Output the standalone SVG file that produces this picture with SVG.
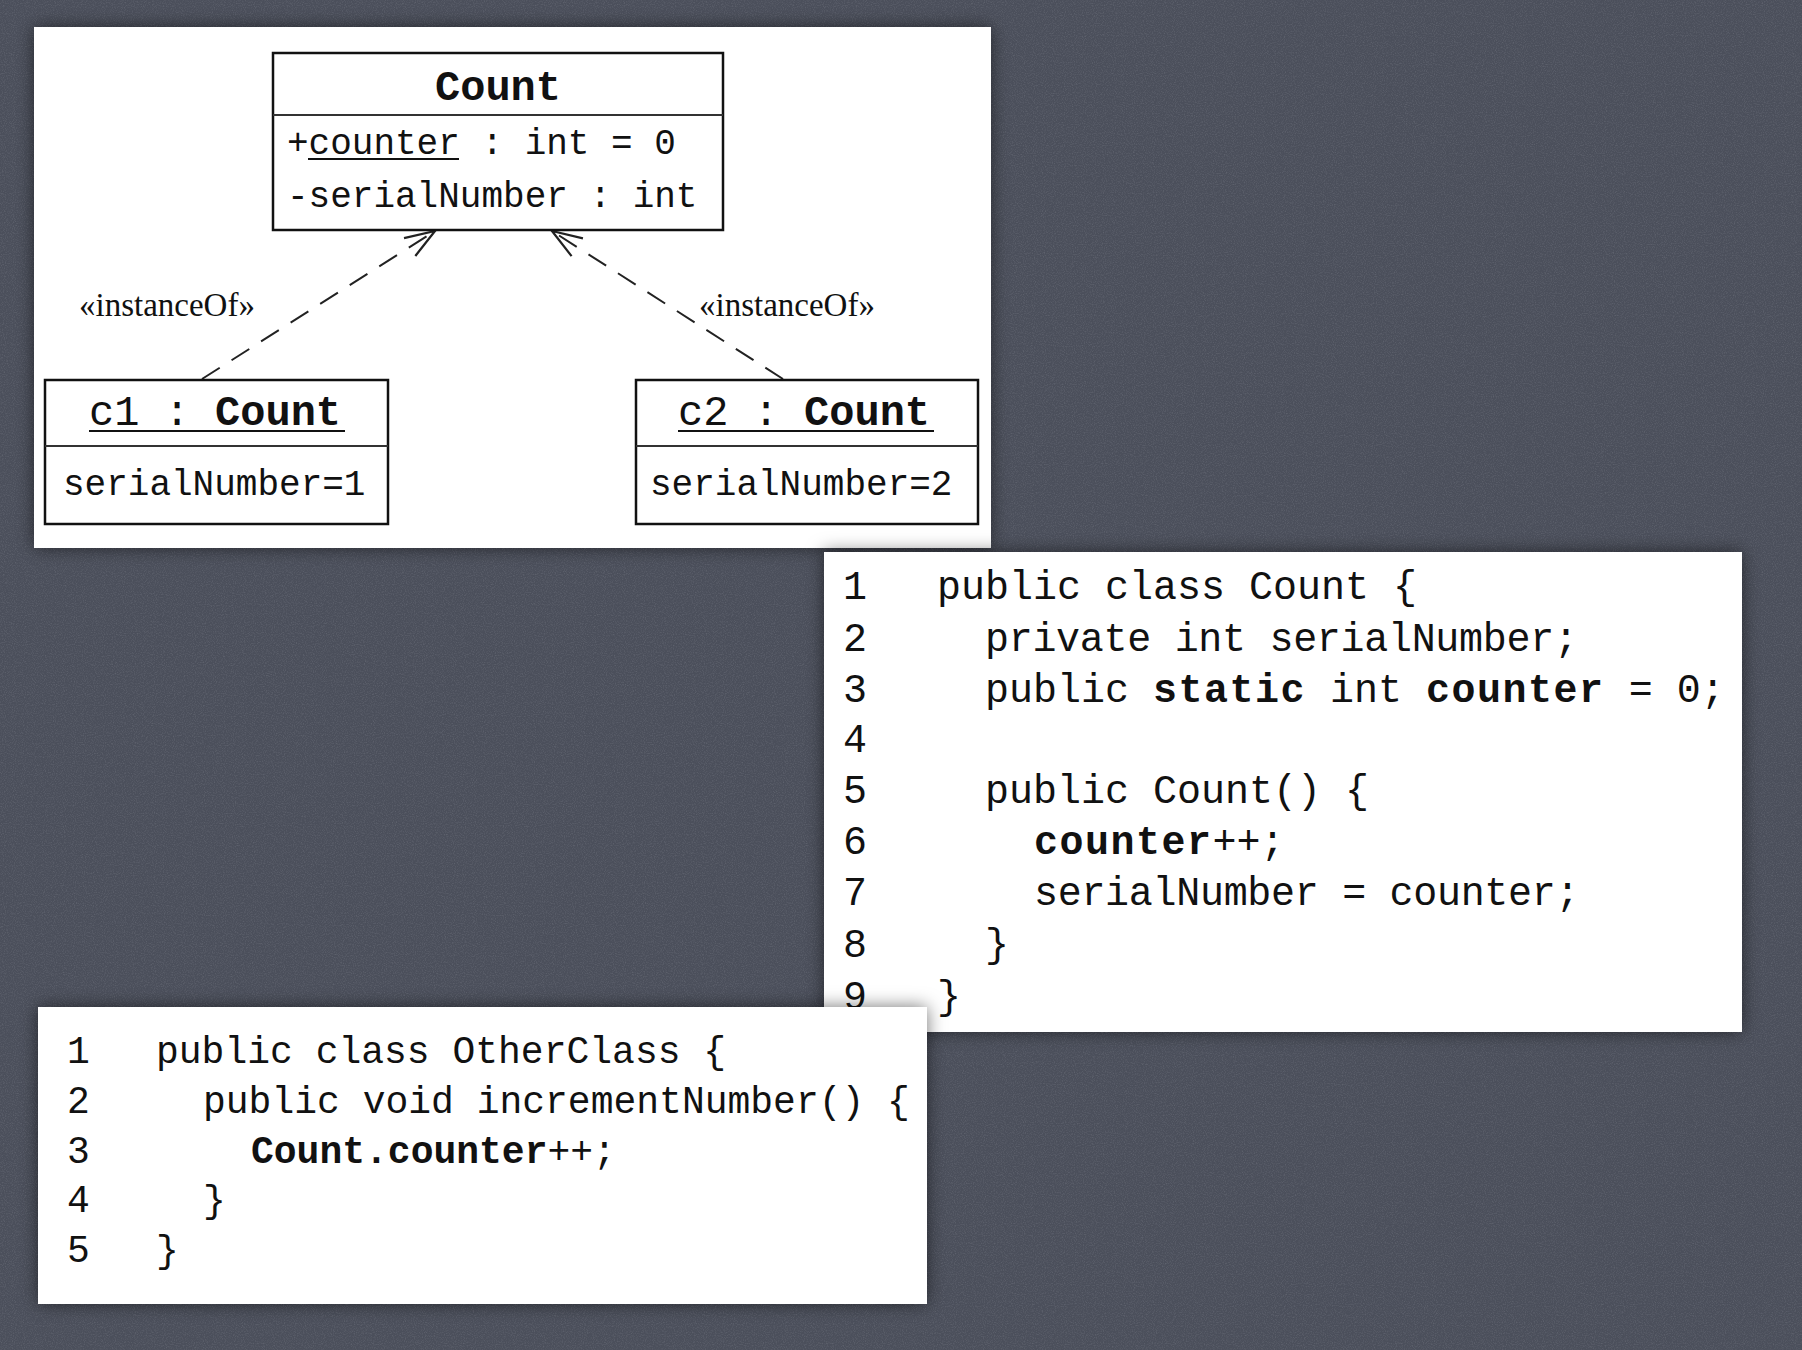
<svg xmlns="http://www.w3.org/2000/svg" width="1802" height="1350" viewBox="0 0 1802 1350">
<defs>
<style>
.mono{font-family:"Liberation Mono","Courier New",monospace;fill:#111}
.serif{font-family:"Liberation Serif","Times New Roman",serif;fill:#111}
.box{fill:#fff;stroke:#111;stroke-width:2.5}
.div{stroke:#333;stroke-width:2}
.panel{fill:#fff}
.conn{fill:none;stroke:#222;stroke-width:2;stroke-dasharray:21 14}
.b{font-weight:bold}
.bw{font-weight:bold;letter-spacing:1.5px}
.ul{stroke:#111;stroke-width:2}
</style>
<filter id="shadow" x="-10%" y="-10%" width="120%" height="120%">
<feDropShadow dx="0" dy="0" stdDeviation="9" flood-color="#000" flood-opacity="0.55"/>
</filter>
<filter id="noise" x="0" y="0" width="100%" height="100%">
<feTurbulence type="fractalNoise" baseFrequency="0.9" numOctaves="2" seed="3" result="n"/>
<feColorMatrix type="matrix" values="0 0 0 0 0.75  0 0 0 0 0.77  0 0 0 0 0.82  0 0 0 -2.2 1.25" in="n"/>
</filter>
<marker id="open" markerUnits="userSpaceOnUse" markerWidth="40" markerHeight="40" refX="0" refY="0" viewBox="-32 -16 36 32" orient="auto">
<path d="M-27,-9.5 L0,0 L-27,9.5" fill="none" stroke="#222" stroke-width="2"/>
</marker>
</defs>
<rect x="0" y="0" width="1802" height="1350" fill="#4b4f5b"/>
<rect x="0" y="0" width="1802" height="1350" filter="url(#noise)" opacity="0.12"/>

<g id="panel-uml">
<rect class="panel" x="34" y="27" width="957" height="521" filter="url(#shadow)"/>
</g>

<g id="connectors">
<line class="conn" x1="202" y1="379" x2="435" y2="231" marker-end="url(#open)"/>
<line class="conn" x1="783" y1="379" x2="552" y2="231" marker-end="url(#open)"/>
<text class="serif" x="79" y="316" font-size="33">«instanceOf»</text>
<text class="serif" x="699" y="316" font-size="33">«instanceOf»</text>
</g>

<g id="class-count">
<rect class="box" x="273" y="53" width="450" height="177"/>
<line class="div" x1="273" y1="115" x2="723" y2="115"/>
<text class="mono b" x="498" y="100" font-size="42" text-anchor="middle">Count</text>
<text class="mono" x="287" y="154" font-size="36">+counter : int = 0</text>
<line class="ul" x1="308" y1="159" x2="459" y2="159"/>
<text class="mono" x="287" y="207" font-size="36">-serialNumber : int</text>
</g>

<g id="object-c1">
<rect class="box" x="45" y="380" width="343" height="144"/>
<line class="div" x1="45" y1="446" x2="388" y2="446"/>
<text class="mono" x="89" y="425" font-size="42">c1 : <tspan class="b">Count</tspan></text>
<line class="ul" x1="89" y1="431" x2="345" y2="431"/>
<text class="mono" x="63" y="495" font-size="36">serialNumber=1</text>
</g>

<g id="object-c2">
<rect class="box" x="636" y="380" width="342" height="144"/>
<line class="div" x1="636" y1="446" x2="978" y2="446"/>
<text class="mono" x="678" y="425" font-size="42">c2 : <tspan class="b">Count</tspan></text>
<line class="ul" x1="678" y1="431" x2="934" y2="431"/>
<text class="mono" x="650" y="495" font-size="36">serialNumber=2</text>
</g>

<g id="code-count">
<rect class="panel" x="824" y="552" width="918" height="480" filter="url(#shadow)"/>
<g class="mono" font-size="40">
<text x="843" y="599">1</text>
<text x="843" y="651">2</text>
<text x="843" y="702">3</text>
<text x="843" y="752">4</text>
<text x="843" y="803">5</text>
<text x="843" y="854">6</text>
<text x="843" y="905">7</text>
<text x="843" y="957">8</text>
<text x="843" y="1009">9</text>
<text x="937" y="599">public class Count {</text>
<text x="985" y="651" letter-spacing="-0.3">private int serialNumber;</text>
<text x="985" y="702">public <tspan class="bw">static</tspan> int <tspan class="bw">counter</tspan> = 0;</text>
<text x="985" y="803">public Count() {</text>
<text x="1034" y="854"><tspan class="bw">counter</tspan>++;</text>
<text x="1034" y="905" letter-spacing="-0.3">serialNumber = counter;</text>
<text x="985" y="957">}</text>
<text x="937" y="1009">}</text>
</g>
</g>

<g id="code-otherclass">
<rect class="panel" x="38" y="1007" width="889" height="297" filter="url(#shadow)"/>
<g class="mono" font-size="38">
<text x="67" y="1063">1</text>
<text x="67" y="1113">2</text>
<text x="67" y="1163">3</text>
<text x="67" y="1212">4</text>
<text x="67" y="1262">5</text>
<text x="156" y="1063">public class OtherClass {</text>
<text x="203" y="1113">public void incrementNumber() {</text>
<text x="251" y="1163"><tspan class="b">Count.counter</tspan>++;</text>
<text x="203" y="1212">}</text>
<text x="156" y="1262">}</text>
</g>
</g>
</svg>
